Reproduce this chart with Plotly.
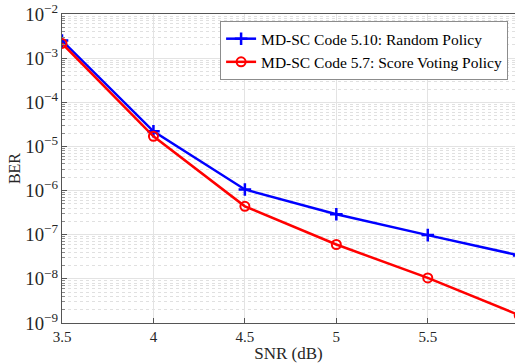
import plotly.graph_objects as go

snr = [3.5, 4.0, 4.5, 5.0, 5.5, 6.0]
ber_random = [2.5e-3, 2.2e-5, 1.06e-6, 2.9e-7, 9.8e-8, 3.4e-8]
ber_score = [2.15e-3, 1.7e-5, 4.4e-7, 6.0e-8, 1.05e-8, 1.5e-9]
name_random = "MD-SC Code 5.10: Random Policy"
name_score = "MD-SC Code 5.7: Score Voting Policy"
x_ticks = [3.5, 4, 4.5, 5, 5.5]

font_family = "Liberation Serif, Times New Roman, serif"

fig = go.Figure()
fig.add_trace(go.Scatter(
    x=snr, y=ber_random, mode="lines+markers", name=name_random,
    line=dict(color="#0000ff", width=2.5),
    marker=dict(symbol="cross-thin", size=9, line=dict(color="#0000ff", width=2.5)),
))
fig.add_trace(go.Scatter(
    x=snr, y=ber_score, mode="lines+markers", name=name_score,
    line=dict(color="#ff0000", width=2.5),
    marker=dict(symbol="circle-open", size=9, color="#ff0000", line=dict(color="#ff0000", width=2)),
))

fig.update_layout(
    width=515, height=363,
    margin=dict(l=62, r=0, t=14, b=40),
    paper_bgcolor="white", plot_bgcolor="white",
    font=dict(family=font_family, size=15, color="#262626"),
    showlegend=True,
    legend=dict(
        x=0.349, y=0.977, xanchor="left", yanchor="top",
        bgcolor="white", bordercolor="#8c8c8c", borderwidth=1,
        font=dict(family=font_family, size=15.5, color="black"),
        tracegroupgap=0, itemwidth=30,
    ),
)
fig.update_xaxes(
    range=[3.5, 5.977], tickvals=x_ticks, ticktext=[str(v) for v in x_ticks],
    showgrid=True, gridcolor="#e3e3e3", gridwidth=1,
    showline=True, linecolor="#555555", linewidth=1, mirror=True,
    ticks="inside", ticklen=5, tickcolor="#555555",
    tickfont=dict(family=font_family, size=15, color="#262626"),
    title=dict(text="SNR (dB)", font=dict(family=font_family, size=17, color="#262626"), standoff=3),
    zeroline=False,
)
fig.update_yaxes(
    type="log", range=[-9, -2], dtick=1, exponentformat="power", showexponent="all",
    showgrid=True, gridcolor="#e3e3e3", gridwidth=1,
    showline=True, linecolor="#555555", linewidth=1, mirror=True,
    ticks="inside", ticklen=5, tickcolor="#555555",
    tickfont=dict(family=font_family, size=15, color="#262626"),
    title=dict(text="BER", font=dict(family=font_family, size=16, color="#262626"), standoff=0),
    minor=dict(ticks="inside", ticklen=3, tickcolor="#888888",
               showgrid=True, gridcolor="#e0e0e0", griddash="dot", gridwidth=1),
    zeroline=False,
)

fig.write_html("out.html")
